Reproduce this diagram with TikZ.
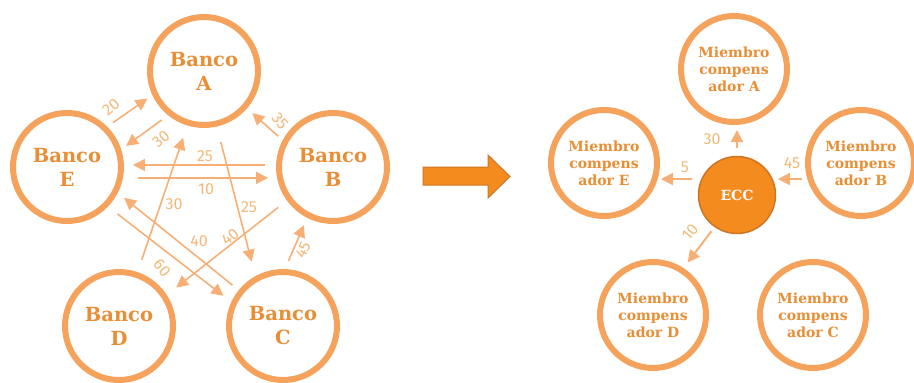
\documentclass[tikz,border=0pt]{standalone}
\usepackage{fontspec}
\setsansfont{Fira Sans}
\newfontfamily\bancofont{DejaVu Serif}
\usetikzlibrary{arrows.meta}
\definecolor{c-anillo}{HTML}{F5A35C}
\definecolor{c-texto}{HTML}{EA8E36}
\definecolor{c-flecha}{HTML}{F7AF76}
\definecolor{c-cifra}{HTML}{F2B877}
\definecolor{c-ecc}{HTML}{F38B1F}
\definecolor{c-eccborde}{HTML}{CF7424}

\begin{document}
\begin{tikzpicture}[x=1pt,y=-1pt,
  banco/.style = {circle,draw=c-anillo,line width=6pt,fill=white,minimum size=108pt,inner sep=0pt,align=center,text=c-texto,font=\bancofont\bfseries\fontsize{19.5}{24}\selectfont},
  miembro/.style = {banco,minimum size=106pt,font=\bancofont\bfseries\fontsize{14}{17}\selectfont},
  pago/.style = {draw=c-flecha,line width=1.6pt,-{Triangle[length=12pt,width=12pt]}},
  pagoecc/.style = {pago,line width=2pt},
  cifra/.style = {text=c-cifra,font=\sffamily\fontsize{16}{16}\selectfont,inner sep=0pt}]
\useasboundingbox (0,0) rectangle (914,383);

\node[banco] (A) at (204,71) {Banco\\A};
\node[banco] (B) at (333,167) {Banco\\B};
\node[banco] (C) at (283,326) {Banco\\C};
\node[banco] (D) at (119,326) {Banco\\D};
\node[banco] (E) at (67,167) {Banco\\E};

\draw[pago,shorten <=7pt,shorten >=6pt] (E.45) -- (A.205);
\draw[pago,shorten <=8pt,shorten >=6pt] (A.231) -- (E.18);
\draw[pago,shorten <=6pt,shorten >=7pt] (B.152) -- (A.319);
\draw[pago,shorten <=11pt,shorten >=9pt] (B.178) -- (E.2);
\draw[pago,shorten <=15pt,shorten >=9pt] (E.-11) -- (B.191);
\draw[pago,shorten <=13pt,shorten >=13pt] (D.71) -- (A.253);
\draw[pago,shorten <=16pt,shorten >=15pt] (A.283) -- (C.119);
\draw[pago,shorten <=8pt,shorten >=8pt] (C.141) -- (E.333);
\draw[pago,shorten <=11pt,shorten >=12pt] (B.216) -- (D.33);
\draw[pago,shorten <=12pt,shorten >=10pt] (E.316) -- (C.155);
\draw[pago,shorten <=9pt,shorten >=8pt] (C.88) -- (B.243);

\node[cifra,rotate=40] (n20) at (111,107) {20};
\node[cifra,rotate=40] (n30a) at (161,139) {30};
\node[cifra,rotate=-50] (n35) at (280,121) {35};
\node[cifra] (n25a) at (205,156) {25};
\node[cifra] (n10) at (206,189) {10};
\node[cifra] (n30b) at (174,204) {30};
\node[cifra] (n25b) at (249,207) {25};
\node[cifra] (n40a) at (199,241) {40};
\node[cifra,rotate=40] (n40b) at (230,237) {40};
\node[cifra,rotate=-50] (n60) at (162,268) {60};
\node[cifra,rotate=65] (n45) at (303,250) {45};

\filldraw[fill=c-ecc,draw=c-eccborde,line width=1pt] (423,167) -- (488,167) -- (488,155) -- (510,176.5) -- (488,198) -- (488,185) -- (423,185) -- cycle;

\node[miembro] (MA) at (734,69) {Miembro\\compens\\ador A};
\node[miembro] (MB) at (861,163) {Miembro\\compens\\ador B};
\node[miembro] (MC) at (813,315) {Miembro\\compens\\ador C};
\node[miembro] (MD) at (653,315) {Miembro\\compens\\ador D};
\node[miembro] (ME) at (604,163) {Miembro\\compens\\ador E};
\node[circle,fill=c-ecc,draw=c-eccborde,line width=1.5pt,minimum size=77pt,inner sep=0pt,text=white,font=\bancofont\bfseries\fontsize{14}{14}\selectfont] (ECC) at (737,195) {ECC};

\draw[pagoecc,shorten <=8pt,shorten >=5pt] (ECC.north) -- (ECC.north |- MA.south);
\draw[pagoecc,shorten <=9pt,shorten >=1pt] (ECC.156) -- (ECC.156 -| ME.east);
\draw[pagoecc,shorten <=3pt,shorten >=5pt] (ECC.24 -| MB.west) -- (ECC.24);
\draw[pagoecc,shorten <=5pt,shorten >=7pt] (ECC.235) -- (MD.57);

\node[cifra] (m30) at (712,139) {30};
\node[cifra] (m5) at (685,167) {5};
\node[cifra] (m45) at (792,163) {45};
\node[cifra,rotate=51] (m10) at (690,232) {10};
\end{tikzpicture}
\end{document}
